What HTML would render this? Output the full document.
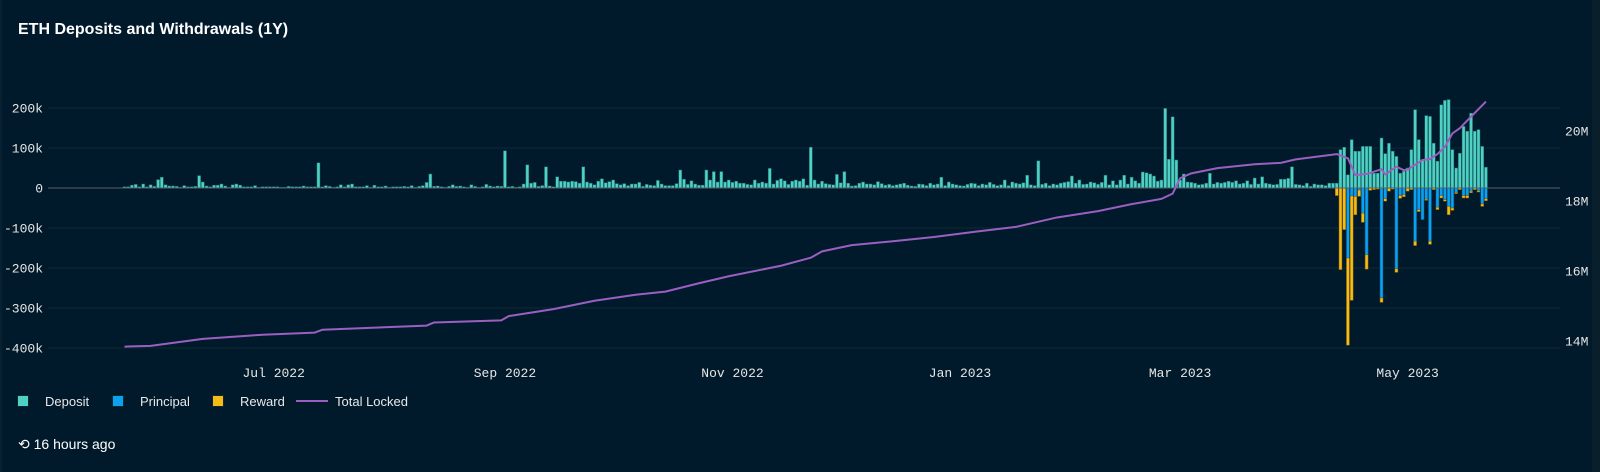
<!DOCTYPE html>
<html><head><meta charset="utf-8">
<style>
html,body{margin:0;padding:0;background:#011a2b;}
body{width:1600px;height:472px;overflow:hidden;position:relative;font-family:"Liberation Sans",sans-serif;}
#card{position:absolute;left:0;top:0;width:1592px;height:472px;background:#011a2b;border-left:2px solid #08202f;box-sizing:border-box}
#edge{position:absolute;left:1592px;top:0;width:8px;height:472px;background:#0a1f2c}
#title{position:absolute;left:18px;top:21px;font-size:16px;font-weight:bold;color:#fff;}
.leg{position:absolute;top:394px;font-size:13px;color:#e8e8e8;}
.sw{position:absolute;top:395px;width:12px;height:12px;box-sizing:border-box;border:1px solid #0a2a30}
#ago{position:absolute;left:18px;top:436px;font-size:14px;color:#fff}
svg{position:absolute;left:0;top:0}
</style></head><body>
<div id="card"></div>
<div id="edge"></div>
<div id="title">ETH Deposits and Withdrawals (1Y)</div>
<svg id="chart" width="1600" height="472"></svg>
<div class="sw" style="left:17px;background:#4fd1c5"></div>
<div class="leg" style="left:45px">Deposit</div>
<div class="sw" style="left:112px;background:#0aa2f0"></div>
<div class="leg" style="left:140px">Principal</div>
<div class="sw" style="left:212px;background:#f5bb17"></div>
<div class="leg" style="left:240px">Reward</div>
<div style="position:absolute;left:296px;top:400px;width:32px;height:2px;background:#9b5fc0"></div>
<div class="leg" style="left:335px">Total Locked</div>
<div id="ago">⟲ 16 hours ago</div>
<script>
const deposits=[3,3,7,9,3,10,3,8,4,21,
27,8,5,5,4,2,6,3,3,4,
31,15,5,3,7,7,10,5,2,8,
10,7,3,3,3,6,2,3,3,3,
3,3,2,2,4,3,3,3,5,3,
3,3,63,3,6,4,2,3,8,3,
8,10,3,3,3,6,2,7,3,3,
5,2,3,3,3,4,3,6,2,4,
6,14,35,4,5,3,2,4,8,4,
5,3,2,8,4,2,3,9,5,3,
5,4,93,3,4,2,3,10,58,12,
14,4,6,53,5,3,28,17,17,15,
17,16,12,53,15,12,8,17,23,13,
16,20,11,8,11,6,10,10,14,4,
9,7,6,19,10,6,6,6,11,45,
22,9,18,10,7,7,45,20,41,15,
41,15,20,14,17,12,12,9,8,20,
12,15,12,49,10,19,23,18,9,17,
20,17,23,7,102,20,10,17,11,9,
8,34,13,41,12,5,6,12,15,10,
10,8,16,11,7,9,6,8,10,12,
7,5,4,10,9,6,12,8,10,27,
6,15,10,8,6,5,9,12,11,6,
10,8,14,9,6,8,20,6,15,12,
10,13,32,8,6,68,9,12,6,10,
8,12,14,16,30,12,20,9,10,15,
13,9,14,32,8,18,8,20,32,10,
27,18,12,40,38,35,30,17,20,199,
72,178,70,20,35,15,14,12,8,9,
12,37,10,14,12,14,17,14,18,10,
12,18,9,25,10,28,12,10,8,9,
22,22,24,53,9,8,6,12,4,10,
8,8,6,12,12,12,
96,102,33,121,92,92,104,104,104,37,
37,125,86,112,92,79,37,42,50,96,
196,121,71,181,179,112,67,208,219,221,
96,50,87,154,142,187,142,146,104,52];
const withdrawStart=325;
const principal=[0,0,0,175,20,21,5,63,167,0,0,0,275,27,0,0,202,19,17,0,0,133,54,79,28,133,0,48,19,29,46,50,11,0,19,19,8,0,7,40,27];
const reward=[19,204,104,218,261,46,16,23,36,6,4,3,11,6,8,3,9,7,5,8,4,11,5,0,3,8,4,6,6,4,21,6,3,4,6,6,4,4,3,6,5];
const lineDays=[0,7,21,37,51,53,81,83,101,103,115,126,137,145,154,162,176,184,187,195,206,217,228,239,250,261,270,278,281,283,286,293,303,310,314,325,328,330,333,337,338,341,343,344,348,350,352,354,356,358,361,365];
const lineValues=[13.84,13.86,14.06,14.18,14.24,14.32,14.44,14.53,14.59,14.71,14.91,15.15,15.32,15.41,15.65,15.85,16.15,16.38,16.56,16.74,16.85,16.97,17.12,17.26,17.53,17.71,17.91,18.06,18.21,18.65,18.79,18.94,19.05,19.09,19.19,19.34,19.22,18.74,18.77,18.91,18.76,18.98,18.88,18.9,19.17,19.2,19.34,19.55,19.93,20.08,20.41,20.84];
const leftTicks=[200,100,0,-100,-200,-300,-400];
const leftTickLabels=["200k","100k","0","-100k","-200k","-300k","-400k"];
const rightTicks=[20,18,16,14];
const rightTickLabels=["20M","18M","16M","14M"];
const monthDays=[40,102,163,224,283,344];
const monthLabels=["Jul 2022","Sep 2022","Nov 2022","Jan 2023","Mar 2023","May 2023"];

const X=d=>124.5+d*3.73;
const YL=v=>188-v*0.4;
const YR=m=>201-(m-18)*35;
const svg=document.getElementById('chart');
const NS='http://www.w3.org/2000/svg';
function mk(t,a){const e=document.createElementNS(NS,t);for(const k in a)e.setAttribute(k,a[k]);svg.appendChild(e);return e;}
leftTicks.forEach((v,i)=>{
  if(v!==0){const g=mk('line',{x1:48,x2:1560,y1:YL(v),y2:YL(v),stroke:'#0c2a36','stroke-width':1});
  
  }
  const t=mk('text',{x:43,y:YL(v)+4.5,'text-anchor':'end',fill:'#e6e6e6','font-size':13,'font-family':'Liberation Mono, monospace'});
  t.textContent=leftTickLabels[i];
  
  
});
rightTicks.forEach((v,i)=>{
  const t=mk('text',{x:1565,y:YR(v)+4.5,fill:'#e6e6e6','font-size':13,'font-family':'Liberation Mono, monospace'});
  t.textContent=rightTickLabels[i];
  
  
});
monthDays.forEach((d,i)=>{
  const t=mk('text',{x:X(d),y:377,'text-anchor':'middle',fill:'#e6e6e6','font-size':13,'font-family':'Liberation Mono, monospace'});
  t.textContent=monthLabels[i];
  
  
});
const bw=3.0;
deposits.forEach((v,d)=>{
  const r=mk('rect',{x:X(d)-bw/2,y:YL(v),width:bw,height:Math.max(0.8,YL(0)-YL(v)),fill:'#4fd1c5',stroke:'#1f6f6e','stroke-width':0.5});
  
  
});
principal.forEach((p,i)=>{
  const d=withdrawStart+i;const rw=reward[i];
  if(p>0){const r=mk('rect',{x:X(d)-bw/2,y:YL(0),width:bw,height:YL(-p)-YL(0),fill:'#0aa2f0',stroke:'#08507a','stroke-width':0.5});
  
  }
  if(rw>0){const r2=mk('rect',{x:X(d)-bw/2,y:YL(-p),width:bw,height:YL(-p-rw)-YL(-p),fill:'#f5bb17',stroke:'#7a5a08','stroke-width':0.5});
  
  }
});
const z=mk('line',{x1:48,x2:1560,y1:YL(0),y2:YL(0),stroke:'#56606a','stroke-width':1});


const pl=mk('polyline',{points:lineDays.map((d,i)=>X(d)+','+YR(lineValues[i])).join(' '),fill:'none',stroke:'#9b5fc0','stroke-width':2,'stroke-linejoin':'round'});


</script>
</body></html>
